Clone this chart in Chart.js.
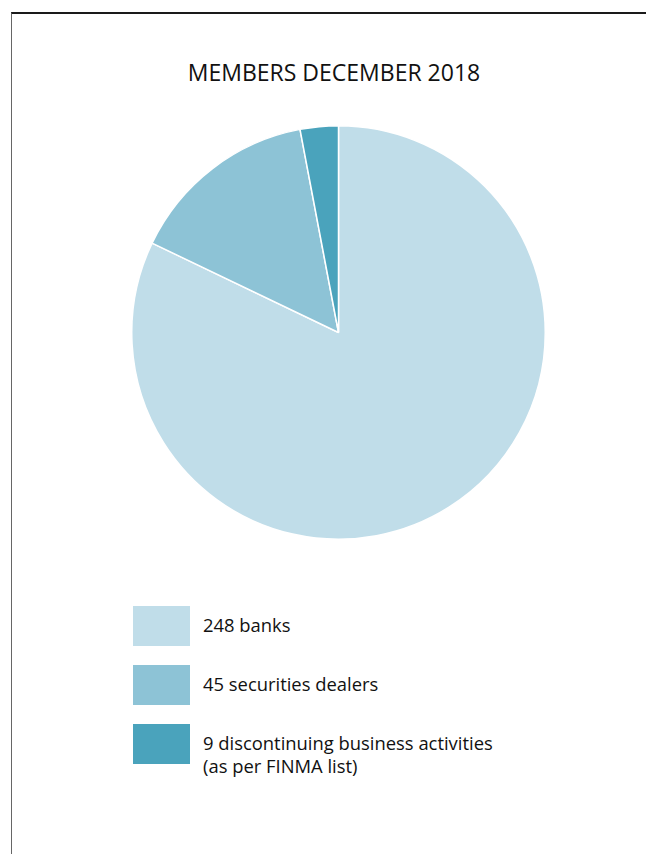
<!DOCTYPE html>
<html>
<head>
<meta charset="utf-8">
<script src="https://cdn.jsdelivr.net/npm/chart.js@4.4.1/dist/chart.umd.min.js"></script>
<style>
  html,body{margin:0;padding:0;background:#fff;}
  body{width:646px;height:854px;position:relative;overflow:hidden;font-family:"Open Sans",sans-serif;color:#111;}
  .frame{position:absolute;left:11px;top:12px;right:0;bottom:-2px;border-top:2px solid #1a1a1a;border-left:1.5px solid #666;}
  .title{position:absolute;left:0;width:668px;top:57px;text-align:center;font-size:23px;line-height:30px;}
  .pie-box{position:absolute;left:131px;top:125px;width:415px;height:415px;}
  .legend{position:absolute;left:133px;top:606px;}
  .item{display:flex;align-items:flex-start;height:59px;}
  .swatch{width:57px;height:40px;flex:none;}
  .label{margin-left:13px;font-size:18.4px;line-height:23px;padding-top:7px;}
</style>
</head>
<body>
<div class="frame"></div>
<div class="title">MEMBERS DECEMBER 2018</div>
<div class="pie-box"><canvas id="myChart"></canvas></div>
<div class="legend" id="legend"></div>
<script>
const categories=["banks","securities dealers","discontinuing business activities"];
const members=[248,45,9];
const legendNotes=["","","(as per FINMA list)"];
const sliceColors=["#C0DDE9","#8DC3D6","#4AA3BC"];

const legendBox=document.getElementById("legend");
categories.forEach((name,i)=>{
    let item=document.createElement("div");
    item.className="item";
    let sw=document.createElement("div");
    sw.className="swatch";
    sw.style.background=sliceColors[i];
    let lab=document.createElement("div");
    lab.className="label";
    lab.innerHTML=members[i]+" "+name+(legendNotes[i]?"<br>"+legendNotes[i]:"");
    item.appendChild(sw);
    item.appendChild(lab);
    legendBox.appendChild(item);
});

const ctx=document.getElementById("myChart").getContext("2d");
const myChart=new Chart(ctx,{
    type:"pie",
    data:{
        labels:categories,
        datasets:[{
            data:members,
            backgroundColor:sliceColors,
            borderColor:"#ffffff",
            borderWidth:1.5,
        }],
    },
    options:{
        responsive:true,
        maintainAspectRatio:true,
        aspectRatio:1,
        animation:false,
        layout:{padding:0},
        plugins:{legend:{display:false},tooltip:{enabled:false}},
    },
});
</script>
</body>
</html>
